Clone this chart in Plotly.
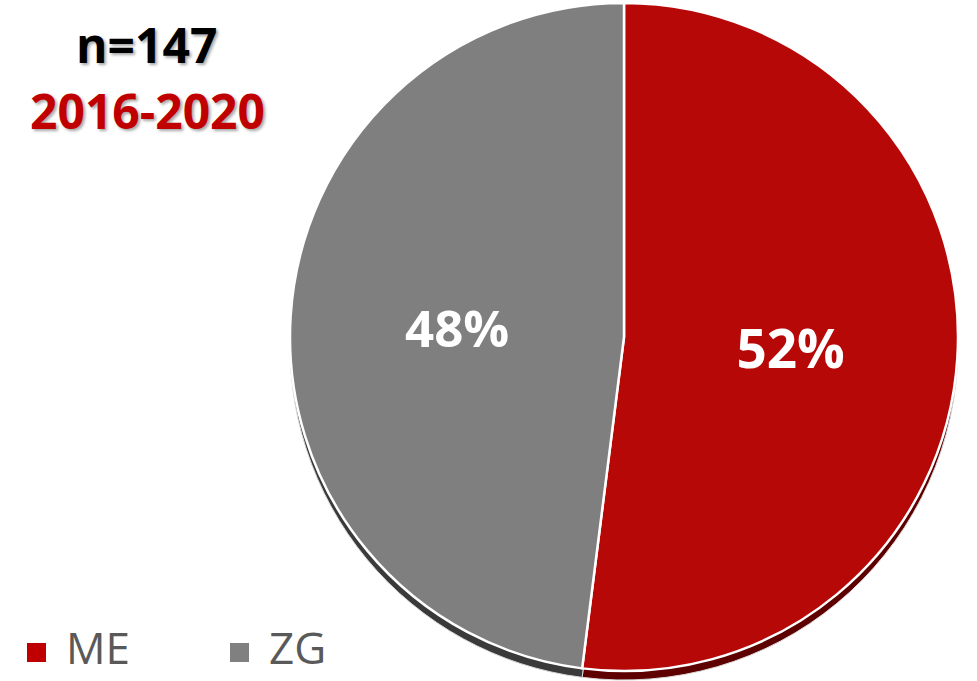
import plotly.graph_objects as go

# Share of cases by group
labels = ["ME", "ZG"]
values = [52, 48]
colors = ["#B70808", "#7F7F7F"]
edge_colors = ["#5E0000", "#3A3A3A"]
legend_colors = ["#C00000", "#808080"]
title_lines = ["n=147", "2016-2020"]

W, H = 977, 681
cx, cy, r = 624, 337, 334          # pie centre / radius in pixels
depth = 9                           # thickness of the 3-D edge


def dom(cx, cy, r):
    return dict(x=[(cx - r) / W, (cx + r) / W],
                y=[max(0.0, (H - cy - r) / H), min(1.0, (H - cy + r) / H)])


fig = go.Figure()

# darker copy underneath, shifted down, gives the tilted-disc edge
fig.add_trace(go.Pie(
    labels=labels, values=values, sort=False, direction="clockwise",
    marker=dict(colors=edge_colors, line=dict(color="#D8D8D8", width=1)),
    textinfo="none", hoverinfo="skip", showlegend=False,
    domain=dom(cx, cy + depth, r),
))

# main face
fig.add_trace(go.Pie(
    labels=labels, values=values, sort=False, direction="clockwise",
    marker=dict(colors=colors, line=dict(color="white", width=2.5)),
    texttemplate="%{value}%", textposition="inside",
    insidetextorientation="horizontal",
    textfont=dict(family="Open Sans", size=[53, 51], color="white",
                  weight="bold"),
    showlegend=False,
    domain=dom(cx, cy, r),
))

# title block, upper left
fig.add_annotation(x=146 / W, y=1 - 44 / H, xref="paper", yref="paper",
                   text=title_lines[0], showarrow=False,
                   xanchor="center", yanchor="middle",
                   font=dict(family="Open Sans", size=48, color="black",
                             weight="bold",
                             shadow="2px 2px 3px rgba(0,0,0,0.35)"))
fig.add_annotation(x=147 / W, y=1 - 111 / H, xref="paper", yref="paper",
                   text=title_lines[1], showarrow=False,
                   xanchor="center", yanchor="middle",
                   font=dict(family="Open Sans", size=48, color="#C00000",
                             weight="bold",
                             shadow="2px 2px 3px rgba(0,0,0,0.35)"))

# legend row along the bottom
legend_x = [27, 230]
sq = 19
for i, lab in enumerate(labels):
    x0 = legend_x[i]
    fig.add_shape(type="rect", xref="paper", yref="paper",
                  x0=x0 / W, x1=(x0 + sq) / W,
                  y0=1 - 662 / H, y1=1 - 643 / H,
                  fillcolor=legend_colors[i], line=dict(width=0))
    fig.add_annotation(x=(x0 + sq + 18) / W, y=1 - 647 / H,
                       xref="paper", yref="paper", text=lab,
                       showarrow=False, xanchor="left", yanchor="middle",
                       font=dict(family="Open Sans", size=44,
                                 color="#595959"))

fig.update_layout(
    width=W, height=H,
    margin=dict(l=0, r=0, t=0, b=0),
    paper_bgcolor="white", plot_bgcolor="white",
)

fig.write_html("out.html")
